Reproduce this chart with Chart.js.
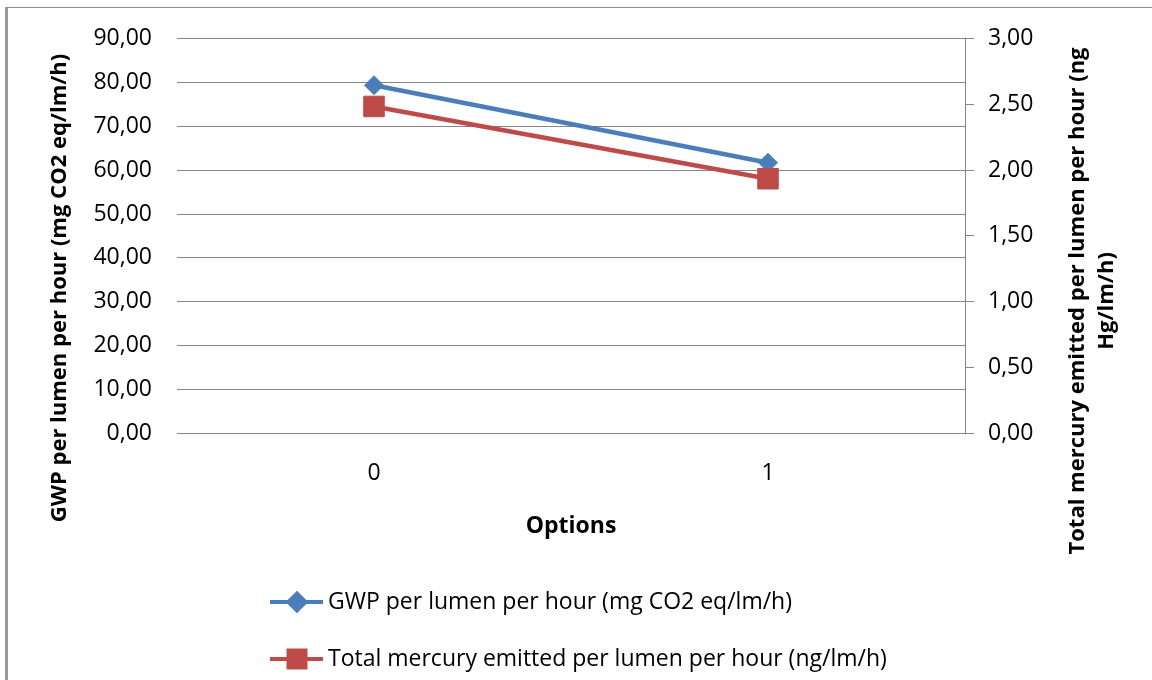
<!DOCTYPE html>
<html lang="en">
<head>
    <meta charset="UTF-8">
    <title>GWP and mercury per lumen per hour</title>
    <script src="https://cdn.jsdelivr.net/npm/chart.js"></script>
    <style>
        html, body { margin: 0; padding: 0; background: #fff; }
        #wrap { position: relative; width: 1152px; height: 680px; overflow: hidden; }
        #frame { position: absolute; left: 5px; top: 7px; width: 1200px; height: 700px;
                 border-left: 3px solid #9a9a9a; border-top: 1px solid #8c8c8c; pointer-events: none; }
        canvas { position: absolute; left: 0; top: 0; }
    </style>
</head>
<body>
<div id="wrap">
    <canvas id="chart" width="1152" height="680"></canvas>
    <div id="frame"></div>
</div>

<script>
    // data
    const categories = ['0', '1'];
    const gwpValues = [79.4, 61.7];          // mg CO2 eq/lm/h, left axis
    const mercuryValues = [2.485, 1.935];    // ng Hg/lm/h, right axis

    const gwpLabel = 'GWP per lumen per hour (mg CO2 eq/lm/h)';
    const mercuryLabel = 'Total mercury emitted per lumen per hour (ng/lm/h)';
    const leftTitle = 'GWP per lumen per hour (mg CO2 eq/lm/h)';
    const rightTitle = ['Total mercury emitted per lumen per hour (ng', 'Hg/lm/h)'];
    const xTitle = 'Options';

    const leftMax = 90, leftStep = 10;
    const rightMax = 3, rightStep = 0.5;

    const blue = '#4a7ebb';
    const red = '#be4b48';
    const gridColor = '#868686';
    const font = "'Open Sans', sans-serif";

    const commaFmt = v => Number(v).toFixed(2).replace('.', ',');

    // axis titles (read bottom to top on both sides) and the left-aligned legend
    const extras = {
        id: 'extras',
        afterDraw(chart) {
            const ctx = chart.ctx;
            ctx.save();
            ctx.fillStyle = '#000';
            ctx.font = 'bold 22px ' + font;
            ctx.textAlign = 'center';
            ctx.textBaseline = 'alphabetic';

            ctx.save();
            ctx.translate(66, 288);
            ctx.rotate(-Math.PI / 2);
            ctx.fillText(leftTitle, 0, 0);
            ctx.restore();

            ctx.save();
            ctx.translate(1084, 301);
            ctx.rotate(-Math.PI / 2);
            ctx.fillText(rightTitle[0], 0, 0);
            ctx.fillText(rightTitle[1], 0, 29);
            ctx.restore();

            // legend
            const items = [
                { text: gwpLabel, color: blue, style: 'rectRot', radius: 8.5, y: 602 },
                { text: mercuryLabel, color: red, style: 'rect', radius: 12, y: 659 }
            ];
            ctx.font = '23px ' + font;
            ctx.textAlign = 'left';
            ctx.textBaseline = 'middle';
            items.forEach(it => {
                ctx.strokeStyle = it.color;
                ctx.lineWidth = 4;
                ctx.beginPath();
                ctx.moveTo(270, it.y);
                ctx.lineTo(323, it.y);
                ctx.stroke();
                ctx.fillStyle = it.color;
                Chart.helpers.drawPoint(ctx, { pointStyle: it.style, radius: it.radius, rotation: 0, borderWidth: 1 }, 297, it.y);
                ctx.fillStyle = '#000';
                ctx.fillText(it.text, 328, it.y);
            });
            ctx.restore();
        }
    };

    new Chart(document.getElementById('chart').getContext('2d'), {
        type: 'line',
        data: {
            labels: categories,
            datasets: [
                {
                    label: gwpLabel,
                    data: gwpValues,
                    yAxisID: 'y',
                    borderColor: blue,
                    backgroundColor: blue,
                    borderWidth: 4.5,
                    pointStyle: 'rectRot',
                    pointRadius: 9.5,
                    pointBorderWidth: 1,
                    tension: 0,
                    order: 2
                },
                {
                    label: mercuryLabel,
                    data: mercuryValues,
                    yAxisID: 'y1',
                    borderColor: red,
                    backgroundColor: red,
                    borderWidth: 4.5,
                    pointStyle: 'rect',
                    pointRadius: 14.5,
                    pointBorderWidth: 1,
                    tension: 0,
                    order: 1
                }
            ]
        },
        options: {
            responsive: false,
            animation: false,
            layout: { padding: { top: 37, left: 0, right: 0, bottom: 137 } },
            plugins: {
                legend: { display: false },
                tooltip: { enabled: false }
            },
            scales: {
                x: {
                    offset: true,
                    grid: { display: false, drawTicks: false },
                    border: { display: false },
                    ticks: { color: '#000', font: { family: font, size: 23 }, padding: 27 },
                    title: {
                        display: true, text: xTitle, color: '#000',
                        font: { family: font, size: 23, weight: 'bold' },
                        padding: { top: 0, bottom: 3 }
                    },
                    afterFit: s => { s.height = 110; }
                },
                y: {
                    position: 'left',
                    min: 0, max: leftMax,
                    grid: { color: gridColor, lineWidth: 1, drawTicks: false },
                    border: { display: false },
                    ticks: {
                        stepSize: leftStep, padding: 25, color: '#000',
                        font: { family: font, size: 23 },
                        callback: commaFmt
                    },
                    afterFit: s => { s.width = 177; }
                },
                y1: {
                    position: 'right',
                    min: 0, max: rightMax,
                    grid: { drawOnChartArea: false, color: gridColor, tickLength: 9 },
                    border: { display: true, color: gridColor, width: 1 },
                    ticks: {
                        stepSize: rightStep, padding: 14, color: '#000',
                        font: { family: font, size: 23 },
                        callback: commaFmt
                    },
                    afterFit: s => { s.width = 187; }
                }
            }
        },
        plugins: [extras]
    });
</script>
</body>
</html>
